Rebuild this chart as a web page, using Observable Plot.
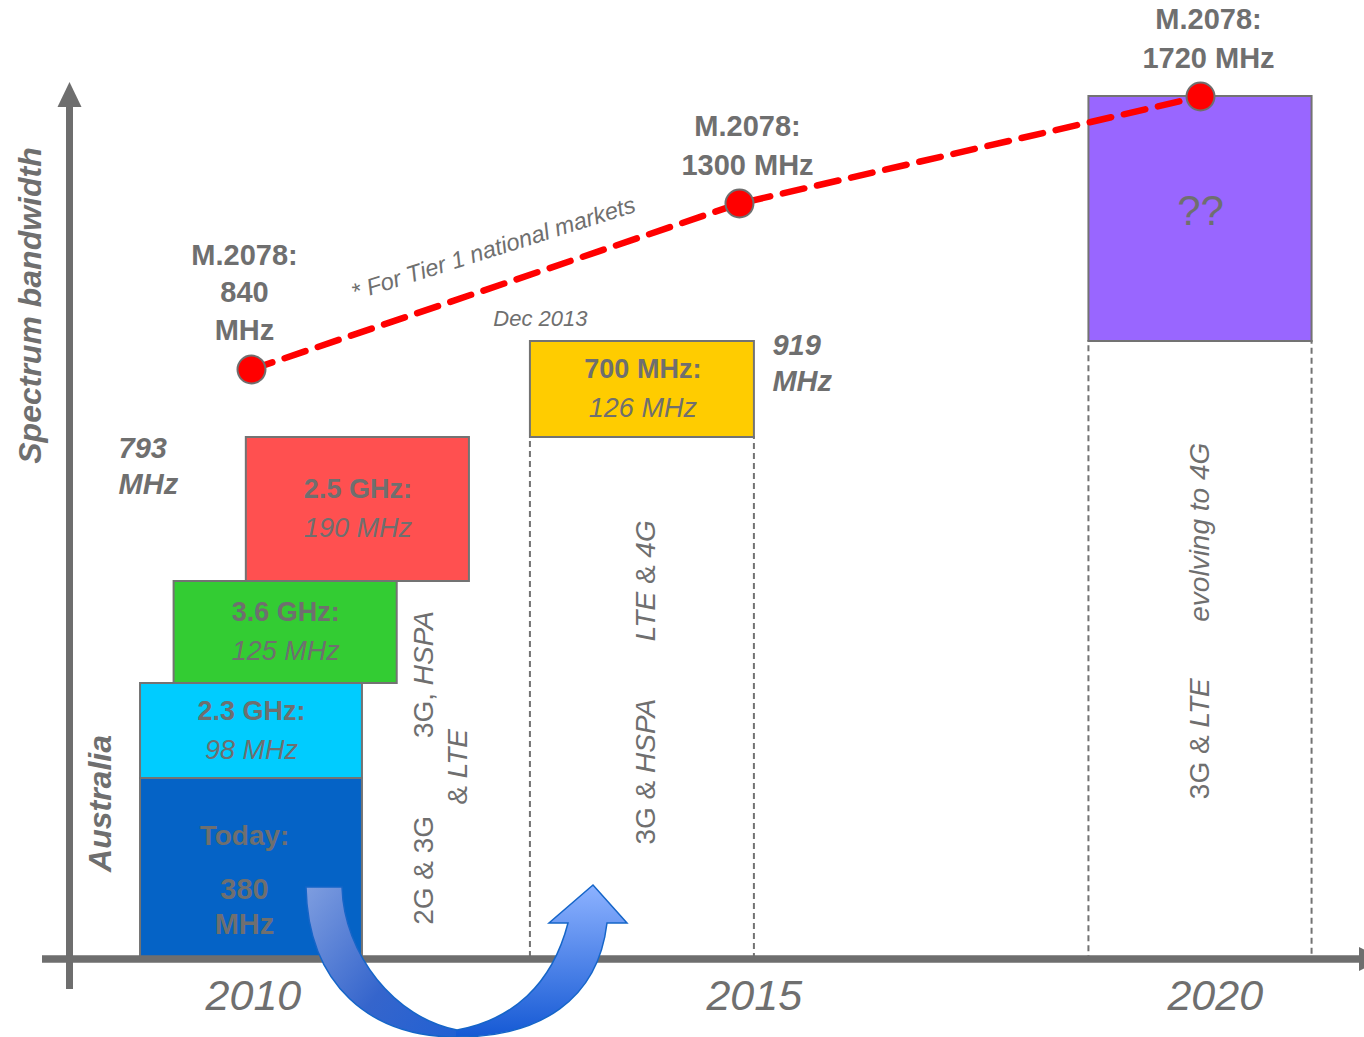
<!DOCTYPE html>
<html><head><meta charset="utf-8">
<script src="https://cdn.jsdelivr.net/npm/d3@7"></script>
<script src="https://cdn.jsdelivr.net/npm/@observablehq/plot@0.6"></script>
<style>html,body{margin:0;padding:0;background:#fff;overflow:hidden}</style>
</head><body><div id="chart"></div>
<script>
// ---------------- DATA ----------------
const years = [2010, 2015, 2020];
const yearLabels = ["2010", "2015", "2020"];

const bandKeys   = ["today", "2.3", "3.6", "2.5", "700"];
const bandTitles = ["Today:", "2.3 GHz:", "3.6 GHz:", "2.5 GHz:", "700 MHz:"];
const bandMHz    = [380, 98, 125, 190, 126];
const bandLabels = ["380\nMHz", "98 MHz", "125 MHz", "190 MHz", "126 MHz"];
const bandYears  = [2010, 2010, 2010, 2010, 2015];

const m2078Years  = [2010, 2015, 2020];
const m2078MHz    = [840, 1300, 1720];
const m2078Labels = ["M.2078:\n840\nMHz", "M.2078:\n1300 MHz", "M.2078:\n1720 MHz"];

const totalLabels = ["793\nMHz", "919\nMHz"];
const futureLabel = "??";
const releaseLabel = "Dec 2013";
const tierNote = "* For Tier 1 national markets";
const axisTitle = "Spectrum bandwidth";
const countryLabel = "Australia";

const techTexts = ["2G & 3G", "3G, HSPA", "& LTE", "3G & HSPA", "LTE & 4G", "3G & LTE", "evolving to 4G"];
const techYear  = [2011.77, 2011.77, 2012.12, 2014.04, 2014.04, 2020, 2020];
const techMHz   = [186, 489, 392, 387, 604, 421, 668];

// ---------------- PRESENTATION ----------------
const textGray = "#6f6f6f";
const edgeGray = "#737373";
const font = "'Liberation Sans', Arial, Helvetica, sans-serif";
const bandFill = {"today": "#0563c6", "2.3": "#00ccff", "3.6": "#33cc33", "2.5": "#ff5050", "700": "#ffcc00"};
const futureFill = "#9966ff";
// horizontal placement of blocks (in years) – the infographic is not drawn to scale
const blockShift = [0, 0, 0.35, 1.09, -0.99];
const blockHalf  = [1.137, 1.137, 1.143, 1.143, 1.152];
const futureHalf = 1.21;
const yearLabelShift = [0.02, 0.16, 0.16];
// the original is not to scale: these warps reproduce its uneven spacing
const xWarpTo = [2010, 2015.142, 2020];                                   // display years
const yWarpPx = [0, 180, 275, 377, 521, 589, 617, 755, 862];              // visual heights of the stops
const X_RANGE = [251, 1200], Y_RANGE = [958, 96];

// ---------------- DERIVED ----------------
const tops = Array.from(d3.cumsum(bandMHz));   // 380, 478, 603, 793, 919
const yStops = [0, ...tops.slice(0, 4), m2078MHz[0], tops[4], m2078MHz[1], m2078MHz[2]];
const yMax = m2078MHz[2];
const warpX = d3.scaleLinear().domain(years).range(xWarpTo);
const warpY = d3.scaleLinear().domain(yStops).range(yWarpPx.map(h => h / yWarpPx[yWarpPx.length - 1] * yMax));
const yPix = v => Y_RANGE[0] + (Y_RANGE[1] - Y_RANGE[0]) * warpY(v) / yMax;
const mid = (a, b) => warpY.invert((warpY(a) + warpY(b)) / 2);

const blocks = bandKeys.map((k, i) => ({
  key: k, title: bandTitles[i], label: bandLabels[i], year: bandYears[i],
  y1: tops[i] - bandMHz[i], y2: tops[i],
  x1: bandYears[i] + blockShift[i] - blockHalf[i],
  x2: bandYears[i] + blockShift[i] + blockHalf[i],
  cx: bandYears[i] + blockShift[i]
})).map(d => ({...d, ym: mid(d.y1, d.y2)}));

const total2010 = tops[3], total2015 = tops[4];
const future = {x1: years[2] - futureHalf, x2: years[2] + futureHalf, y1: total2015, y2: m2078MHz[2], cx: years[2]};
future.ym = mid(future.y1, future.y2);
const b700 = blocks[4];
const columns = [
  {x1: b700.x1, x2: b700.x2, y1: 0, y2: total2010},
  {x1: future.x1, x2: future.x2, y1: 0, y2: total2015}
];
const milestones = m2078Years.map((y, i) => ({year: y, mhz: m2078MHz[i], label: m2078Labels[i]}));
const totals = [
  {x: blocks[0].x1, y: total2010, label: totalLabels[0]},
  {x: b700.x2, y: total2015, label: totalLabels[1]}
];
const tech = techTexts.map((t, i) => ({text: t, x: techYear[i], y: techMHz[i]}));

// decorations: axis arrows and the curved blue arrow
function decor() {
  const g = d3.create("svg:g");
  const ox = X_RANGE[0], oy = yPix(0);   // pixel position of (2010, 0 MHz)
  const gray = "#6e6e6e";
  const ax = 69.5;
  g.append("line").attr("x1", ax).attr("x2", ax).attr("y1", oy + 31).attr("y2", 104)
    .attr("stroke", gray).attr("stroke-width", 7);
  g.append("path").attr("d", `M${ax},82L${ax + 12},107L${ax - 12},107Z`).attr("fill", gray);
  g.append("line").attr("x1", 42).attr("x2", 1362).attr("y1", oy + 1).attr("y2", oy + 1)
    .attr("stroke", gray).attr("stroke-width", 7.5);
  g.append("path").attr("d", `M1384,${oy + 1}L1359,${oy - 11}L1359,${oy + 13}Z`).attr("fill", gray);

  const defs = g.append("defs");
  const grad = defs.append("linearGradient").attr("id", "blueArrowGrad")
    .attr("gradientUnits", "userSpaceOnUse").attr("x1", ox + 55).attr("y1", oy - 73).attr("x2", ox + 250).attr("y2", oy + 79);
  grad.append("stop").attr("offset", 0).attr("stop-color", "#7f9ee0");
  grad.append("stop").attr("offset", 0.5).attr("stop-color", "#3565cc");
  grad.append("stop").attr("offset", 1).attr("stop-color", "#1a5fd6");
  const grad2 = defs.append("linearGradient").attr("id", "blueArrowGrad2")
    .attr("gradientUnits", "userSpaceOnUse").attr("x1", 0).attr("y1", oy - 73).attr("x2", 0).attr("y2", oy + 79);
  grad2.append("stop").attr("offset", 0).attr("stop-color", "#8db2ff");
  grad2.append("stop").attr("offset", 1).attr("stop-color", "#1559d4");
  const P = (dx, dy) => `${ox + dx},${oy + dy}`;
  const d = `M${P(55,-71)}L${P(91,-71)}C${P(93,-3)} ${P(144,60)} ${P(206,72)}` +
            `C${P(261,62)} ${P(301,27)} ${P(317,-35)}L${P(298,-35)}L${P(342,-73)}L${P(376,-35)}L${P(356,-35)}` +
            `C${P(347,42)} ${P(289,79)} ${P(206,79)}C${P(119,79)} ${P(57,27)} ${P(55,-71)}Z`;
  // clip halves so the left arm and the rising arm get their own shading
  const clipL = defs.append("clipPath").attr("id", "arrowLeftHalf");
  clipL.append("rect").attr("x", ox).attr("y", oy - 90).attr("width", 206).attr("height", 200);
  const clipR = defs.append("clipPath").attr("id", "arrowRightHalf");
  clipR.append("rect").attr("x", ox + 205).attr("y", oy - 90).attr("width", 220).attr("height", 200);
  g.append("path").attr("d", d).attr("fill", "url(#blueArrowGrad)").attr("clip-path", "url(#arrowLeftHalf)");
  g.append("path").attr("d", d).attr("fill", "url(#blueArrowGrad2)").attr("clip-path", "url(#arrowRightHalf)");
  g.append("path").attr("d", d).attr("fill", "none").attr("stroke", "#1565c8").attr("stroke-width", 1.5);
  return g.node();
}

const txt = {fill: textGray, fontFamily: font};

const chart = Plot.plot({
  width: 1364, height: 1037, margin: 0,
  style: {background: "#fff", fontFamily: font},
  x: {type: "linear", transform: warpX, domain: [years[0], years[2]], range: X_RANGE, axis: null},
  y: {type: "linear", transform: warpY, domain: [0, yMax], range: Y_RANGE, axis: null},
  color: {type: "identity"},
  marks: [
    Plot.rect(blocks, {x1: "x1", x2: "x2", y1: "y1", y2: "y2", fill: d => bandFill[d.key], stroke: edgeGray, strokeWidth: 2}),
    Plot.rect([future], {x1: "x1", x2: "x2", y1: "y1", y2: "y2", fill: futureFill, stroke: edgeGray, strokeWidth: 2}),
    Plot.rect(columns, {x1: "x1", x2: "x2", y1: "y1", y2: "y2", fill: "none", stroke: edgeGray, strokeWidth: 2, strokeDasharray: "6,4"}),

    // block labels
    Plot.text(blocks.slice(0, 1), {x: "cx", y: "ym", text: "title", dx: -7, dy: -32, fontSize: 28, fontWeight: "bold", ...txt}),
    Plot.text(blocks.slice(0, 1), {x: "cx", y: "ym", text: "label", dx: -7, dy: 37, fontSize: 29, fontWeight: "bold", lineHeight: 1.2, ...txt}),
    Plot.text(blocks.slice(1), {x: "cx", y: "ym", text: "title", dy: -20, fontSize: 27, fontWeight: "bold", ...txt}),
    Plot.text(blocks.slice(1), {x: "cx", y: "ym", text: "label", dy: 19, fontSize: 27, fontStyle: "italic", ...txt}),
    Plot.text([future], {x: "cx", y: "ym", text: () => futureLabel, dy: -7, fontSize: 42, ...txt}),

    // technology labels
    Plot.text(tech, {x: "x", y: "y", text: "text", rotate: -90, fontSize: 28, ...txt}),

    // totals
    Plot.text(totals.slice(0, 1), {x: "x", y: "y", text: "label", dx: -22, dy: -5, textAnchor: "start", lineAnchor: "top", lineHeight: 1.24, fontSize: 29, fontWeight: "bold", fontStyle: "italic", ...txt}),
    Plot.text(totals.slice(1), {x: "x", y: "y", text: "label", dx: 18, dy: -12, textAnchor: "start", lineAnchor: "top", lineHeight: 1.24, fontSize: 29, fontWeight: "bold", fontStyle: "italic", ...txt}),
    Plot.text([b700], {x: "x1", y: () => total2015, text: () => releaseLabel, dx: 10, dy: -23, fontSize: 22, fontStyle: "italic", ...txt}),
    Plot.text([0], {x: () => (m2078Years[0] + m2078Years[1]) / 2, y: () => (m2078MHz[0] + m2078MHz[1]) / 2, text: () => tierNote,
      rotate: -17.5, dx: -2, dy: -38, fontSize: 23.5, fontStyle: "italic", ...txt}),

    // M.2078 trajectory
    Plot.line(milestones, {x: "year", y: "mhz", stroke: "#ff0000", strokeWidth: 6.5, strokeDasharray: "22,13"}),
    Plot.dot(milestones, {x: "year", y: "mhz", r: 14, fill: "#ff0000", stroke: "#6f6f6f", strokeWidth: 2}),
    Plot.text(milestones.slice(0, 1), {x: "year", y: "mhz", text: "label", dx: -7, dy: -30, lineAnchor: "bottom", lineHeight: 1.28, fontSize: 29, fontWeight: "bold", ...txt}),
    Plot.text(milestones.slice(1), {x: "year", y: "mhz", text: "label", dx: 8, dy: -29, lineAnchor: "bottom", lineHeight: 1.33, fontSize: 29, fontWeight: "bold", ...txt}),

    // axis texts
    Plot.text([axisTitle], {frameAnchor: "top-left", text: d => d, dx: 30, dy: 305, rotate: -90, textAnchor: "middle", lineAnchor: "middle", fontSize: 32, fontWeight: "bold", fontStyle: "italic", ...txt}),
    Plot.text([countryLabel], {frameAnchor: "top-left", text: d => d, dx: 100, dy: 803, rotate: -90, textAnchor: "middle", lineAnchor: "middle", fontSize: 32, fontWeight: "bold", fontStyle: "italic", ...txt}),
    Plot.text(years, {x: (d, i) => d + yearLabelShift[i], text: (d, i) => yearLabels[i], frameAnchor: "bottom", lineAnchor: "middle", dy: -41, fontSize: 43, fontStyle: "italic", ...txt}),

    decor
  ]
});

// italic technology names inside the rotated labels
const italicRe = /(HSPA|LTE|4G|evolving to)/;
d3.select(chart).selectAll("text")
  .filter(function () { return techTexts.includes(this.textContent); })
  .each(function () {
    const s = this.textContent;
    const parts = s.split(italicRe).filter(p => p.length);
    while (this.firstChild) this.removeChild(this.firstChild);
    for (const p of parts) {
      const t = document.createElementNS("http://www.w3.org/2000/svg", "tspan");
      t.textContent = p;
      if (italicRe.test(p)) t.setAttribute("font-style", "italic");
      this.appendChild(t);
    }
  });

document.getElementById("chart").appendChild(chart);
</script>
</body></html>
